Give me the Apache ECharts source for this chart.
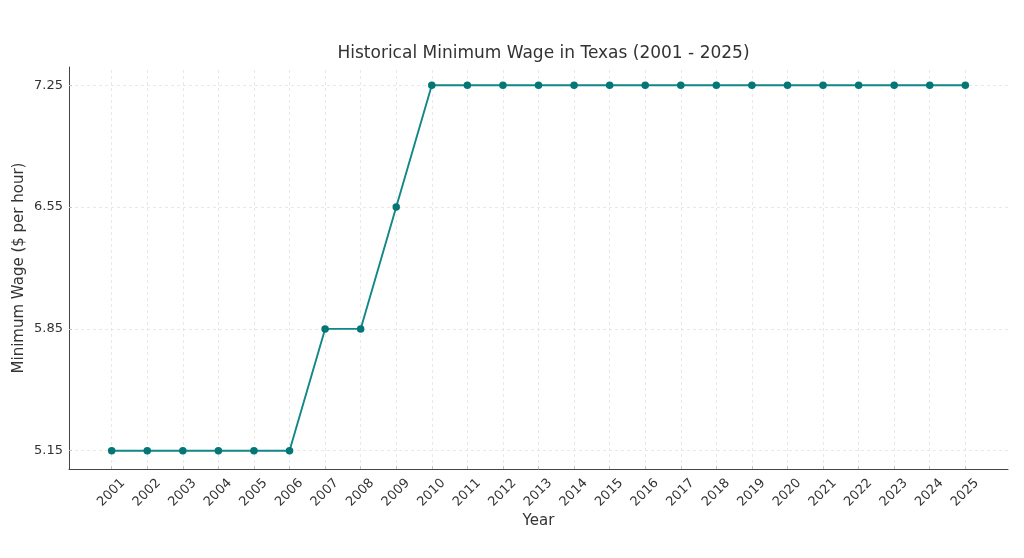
<!DOCTYPE html>
<html>
<head>
<meta charset="utf-8">
<script src="https://cdn.jsdelivr.net/npm/echarts@6/dist/echarts.min.js"></script>
<style>
html,body{margin:0;padding:0;background:#fff;}
#chart{width:1024px;height:558px;}
</style>
</head>
<body>
<div id="chart"></div>
<script>
const years = [2001,2002,2003,2004,2005,2006,2007,2008,2009,2010,2011,2012,2013,2014,2015,2016,2017,2018,2019,2020,2021,2022,2023,2024,2025];
const wages = [5.15,5.15,5.15,5.15,5.15,5.15,5.85,5.85,6.55,7.25,7.25,7.25,7.25,7.25,7.25,7.25,7.25,7.25,7.25,7.25,7.25,7.25,7.25,7.25,7.25];
const yTicks = [5.15,5.85,6.55,7.25];

const labelShift = 0.32;
const font = 'DejaVu Sans';
const chart = echarts.init(document.getElementById('chart'), null, {renderer:'canvas'});
const gridStyle = {color:'#e2e2e2', width:0.8, type:[3,3]};
const gridLines = years.map(y => ({xAxis:y})).concat(yTicks.map(v => ({yAxis:v})));

chart.setOption({
  animation:false,
  backgroundColor:'#fff',
  title:{
    text:'Historical Minimum Wage in Texas (2001 - 2025)',
    left:538.5, top:40, textAlign:'center',
    textStyle:{fontFamily:font, fontSize:17, fontWeight:'normal', color:'#333'}
  },
  grid:{left:69, right:16, top:67, bottom:89, containLabel:false, outerBoundsMode:'none'},
  xAxis:{
    type:'value', min:1999.8, max:2026.2,
    name:'Year', nameLocation:'middle', nameGap:45, nameMoveOverlap:false,
    nameTextStyle:{fontFamily:font, fontSize:15, color:'#333'},
    axisLine:{show:true, onZero:false, lineStyle:{color:'#444', width:1}},
    axisTick:{show:true, inside:true, length:3, customValues:years, lineStyle:{color:'#444'}},
    axisLabel:{
      rotate:45, margin:12, fontFamily:font, fontSize:13, color:'#333',
      customValues: years.map(y => y + labelShift),
      formatter: v => String(Math.round(v - labelShift))
    },
    splitLine:{show:false}
  },
  yAxis:{
    type:'value', min:5.045, max:7.355,
    name:'Minimum Wage ($ per hour)', nameLocation:'middle', nameGap:42, nameMoveOverlap:false,
    nameTextStyle:{fontFamily:font, fontSize:15, color:'#333'},
    axisLine:{show:true, onZero:false, lineStyle:{color:'#444', width:1}},
    axisTick:{show:true, inside:true, length:3, customValues:yTicks, lineStyle:{color:'#444'}},
    axisLabel:{
      margin:6, fontFamily:font, fontSize:13, color:'#333',
      customValues:yTicks,
      formatter: v => Number(v).toFixed(2)
    },
    splitLine:{show:false}
  },
  series:[
    {
      type:'line', data:[], z:1, silent:true,
      markLine:{
        z:1, silent:true, symbol:'none', label:{show:false},
        lineStyle:gridStyle, emphasis:{disabled:true},
        data:gridLines
      }
    },
    {
      type:'line', z:3,
      data: years.map((y,i) => [y, wages[i]]),
      symbol:'circle', symbolSize:7.5,
      lineStyle:{color:'#118787', width:1.9},
      itemStyle:{color:'#047676', borderWidth:0}
    }
  ]
});
</script>
</body>
</html>
